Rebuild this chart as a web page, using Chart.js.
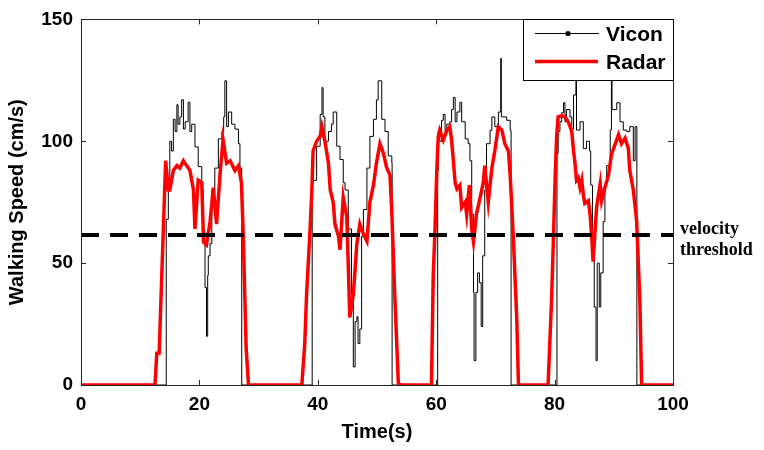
<!DOCTYPE html>
<html>
<head>
<meta charset="utf-8">
<script src="https://cdn.jsdelivr.net/npm/chart.js@4/dist/chart.umd.min.js"></script>
<style>
  html, body { margin: 0; padding: 0; background: #fff; }
  #wrap { width: 764px; height: 450px; }
</style>
</head>
<body>
<div id="wrap"><canvas id="c" width="764" height="450"></canvas></div>
<script>
// ---- Data ----
const xTicks = [0, 20, 40, 60, 80, 100];
const yTicks = [0, 50, 100, 150];

const viconT = [0,
  14.35, 14.4, 14.75, 15.0, 15.3, 15.6, 15.9, 16.2, 16.4, 16.7, 17.0, 17.3, 17.6, 18.1, 18.4, 18.7, 19.25, 19.8, 20.4, 20.65, 20.95, 21.2, 21.4, 21.5, 21.8, 22.1, 22.6, 23.2, 23.8, 24.1, 24.3, 24.6, 24.9, 25.45, 26.0, 26.6, 26.85, 27.15,
  39.0, 39.05, 39.2, 39.8, 40.4, 40.7, 40.9, 41.2, 41.8, 42.3, 42.6, 43.2, 43.75, 44.3, 44.6, 45.15, 45.7, 46.0, 46.3, 46.6, 46.8, 47.1, 47.4, 47.7, 48.3, 48.8, 49.4, 49.9, 50.2, 50.8, 51.35, 51.9, 52.5, 52.55,
  60.2, 60.25, 60.35, 60.6, 60.9, 61.2, 61.5, 61.8, 62.3, 62.6, 62.9, 63.2, 63.5, 64.0, 64.3, 64.9, 65.4, 65.7, 66.0, 66.3, 66.4, 66.7, 67.0, 67.3, 67.6, 67.85, 68.2, 68.5, 69.1, 69.4, 69.9, 70.5, 70.9, 71.0, 71.3, 71.9, 72.5, 72.65,
  80.35, 80.4, 80.6, 80.9, 81.2, 81.5, 81.75, 82.0, 82.6, 82.9, 83.2, 83.6, 83.7, 84.3, 84.85, 85.4, 85.9, 86.1, 86.4, 86.7, 87.0, 87.2, 87.55, 87.8, 88.2, 88.5, 88.8, 89.4, 89.6, 89.7, 90.5, 91.05, 91.6, 92.2, 92.7, 93.3, 93.6, 93.9,
  100];
const viconV = [0,
  0, 68, 84, 100, 96, 109, 104, 115, 107, 110, 117, 105, 108, 116, 104, 107, 97.7, 89.6, 80, 58, 40, 20, 45, 53, 58, 80, 89, 101, 104, 110, 124.8, 106, 112, 107, 105, 99, 89, 0,
  0, 83, 84, 98, 111, 122, 110, 100, 104, 107, 112, 98, 92.5, 83, 80, 64, 37, 7.4, 26, 28, 17, 23, 61, 72, 89, 102, 109, 117, 124.8, 109, 104, 94, 91, 0,
  0, 88, 104.5, 100, 108.6, 111, 104, 107, 108, 113, 118, 108, 112, 116, 108, 101, 99, 92, 70, 38, 10, 38, 46, 42, 24, 53, 80, 99, 104.5, 110, 106, 112, 134, 110, 110, 108.6, 104.5, 0,
  0, 95, 104, 108, 111.7, 115.8, 108, 113, 110, 105, 119, 128, 104.6, 108, 97, 100, 96, 82, 52, 32, 10, 50, 32, 46, 67, 82, 90, 104.6, 128, 113, 115.8, 108, 104.6, 104, 106, 92, 106, 0,
  0];

const radarT = [0,
  12.5, 12.8, 13.2, 14.3, 14.75, 15.0, 15.6, 16.2, 16.7, 17.3, 17.85, 18.4, 19.0, 19.25, 19.8, 20.4, 20.7, 21.2, 21.8, 22.35, 22.9, 23.5, 24.0, 24.6, 25.2, 26.0, 26.6, 27.1, 27.4, 27.9, 28.3,
  37.3, 37.8, 38.1, 38.7, 39.0, 39.2, 39.8, 40.4, 40.7, 41.2, 41.8, 42.1, 42.6, 42.9, 43.5, 43.75, 44.3, 44.9, 45.15, 45.4, 46.0, 46.6, 47.1, 47.7, 48.3, 48.8, 49.4, 49.9, 50.5, 51.1, 51.6, 52.2, 52.5, 53.0, 53.6, 53.9,
  59.2, 59.5, 59.8, 60.1, 60.35, 60.6, 61.2, 61.8, 62.3, 62.6, 62.9, 63.2, 63.5, 64.0, 64.3, 64.9, 65.15, 65.6, 66.0, 66.3, 66.8, 67.4, 67.95, 68.2, 68.8, 69.4, 69.9, 70.5, 71.1, 71.6, 72.2, 72.5, 73.0, 73.6, 73.9,
  78.9, 79.5, 79.8, 80.1, 80.35, 80.6, 81.2, 81.75, 82.3, 82.9, 83.2, 83.4, 83.7, 84.0, 84.3, 84.6, 84.85, 85.1, 85.7, 86.0, 86.3, 86.5, 86.8, 87.1, 87.7, 87.95, 88.5, 89.1, 89.6, 90.2, 90.8, 91.3, 91.9, 92.45, 92.7, 93.3, 93.85, 94.4, 94.7,
  100];
const radarV = [0,
  0, 13, 13, 92, 80, 80, 88, 90, 89, 92, 90, 88, 80, 64, 84, 83, 58.7, 57.5, 67, 81, 66, 87, 100.5, 91, 92, 88, 90, 83, 62, 15, 0,
  0, 17, 37, 64, 80, 96, 100, 102, 106, 100, 91, 80, 75, 66, 61, 55.5, 77, 69, 49, 27.7, 37, 58, 66, 62, 59, 75, 82, 91, 99, 95, 89.5, 86, 71, 37, 1, 0,
  0, 45, 64, 88, 102, 104.5, 100.5, 104.5, 106, 100.5, 92, 83, 80.5, 82, 72.8, 75, 70, 82, 64, 58.7, 70, 76.7, 83, 90, 75, 89, 96, 106, 104.5, 99, 96, 86, 62, 27.7, 0,
  0, 35.7, 60, 85.7, 102, 110, 110.5, 110, 108, 104, 96, 92, 84, 85, 81, 84, 78, 74.5, 75.6, 70, 59.6, 50.6, 62, 73, 82.6, 75.6, 81, 86, 94.6, 98.6, 102.7, 99, 101.3, 97.2, 88, 80, 67.6, 35, 0,
  0];

const thresholdT = [0, 100];
const thresholdV = [61.5, 61.5];
const thresholdLabel = ['velocity', 'threshold'];

const seriesNames = ['Vicon', 'Radar'];

// ---- Build chart ----
const toPts = (t, v) => t.map((x, i) => ({ x: x, y: v[i] }));
const SANS = '"Liberation Sans", Arial, Helvetica, sans-serif';
const SERIF = '"Liberation Serif", "Times New Roman", serif';

const framePlugin = {
  id: 'frame',
  afterDatasetsDraw(chart) {
    const { ctx, chartArea: a, scales } = chart;
    const xs = scales.x, ys = scales.y;
    ctx.save();
    // axes box
    ctx.strokeStyle = '#262626';
    ctx.lineWidth = 1;
    ctx.strokeRect(Math.round(a.left) + 0.5, Math.round(a.top) + 0.5, Math.round(a.right - a.left), Math.round(a.bottom - a.top));
    // inward ticks on all four sides
    const tl = 5;
    ctx.beginPath();
    xTicks.forEach(v => {
      const px = Math.round(xs.getPixelForValue(v)) + 0.5;
      ctx.moveTo(px, a.bottom); ctx.lineTo(px, a.bottom - tl);
      ctx.moveTo(px, a.top); ctx.lineTo(px, a.top + tl);
    });
    yTicks.forEach(v => {
      const py = Math.round(ys.getPixelForValue(v)) + 0.5;
      ctx.moveTo(a.left, py); ctx.lineTo(a.left + tl, py);
      ctx.moveTo(a.right, py); ctx.lineTo(a.right - tl, py);
    });
    ctx.stroke();

    // threshold annotation text
    const ty = ys.getPixelForValue(thresholdV[0]);
    ctx.fillStyle = '#000';
    ctx.font = 'bold 18px ' + SERIF;
    ctx.textAlign = 'left';
    ctx.textBaseline = 'middle';
    ctx.fillText(thresholdLabel[0], a.right + 7, ty - 6);
    ctx.fillText(thresholdLabel[1], a.right + 7, ty + 15);

    // legend (inside axes, top-right, opaque)
    const lx0 = 523, lx1 = Math.round(a.right), ly0 = Math.round(a.top), ly1 = 80;
    ctx.fillStyle = '#fff';
    ctx.fillRect(lx0, ly0, lx1 - lx0, ly1 - ly0);
    ctx.strokeStyle = '#000';
    ctx.lineWidth = 1;
    ctx.strokeRect(lx0 + 0.5, ly0 + 0.5, lx1 - lx0, ly1 - ly0);
    const ds = chart.data.datasets;
    // Vicon entry
    ctx.beginPath();
    ctx.strokeStyle = ds[0].borderColor;
    ctx.lineWidth = 1;
    ctx.moveTo(535, 33.5); ctx.lineTo(599, 33.5);
    ctx.stroke();
    ctx.beginPath();
    ctx.fillStyle = '#000';
    ctx.arc(568, 33.5, 2.6, 0, Math.PI * 2);
    ctx.fill();
    // Radar entry
    ctx.beginPath();
    ctx.strokeStyle = ds[1].borderColor;
    ctx.lineWidth = 3.5;
    ctx.moveTo(535, 61.5); ctx.lineTo(598, 61.5);
    ctx.stroke();
    ctx.fillStyle = '#000';
    ctx.font = 'bold 21px ' + SANS;
    ctx.textAlign = 'left';
    ctx.textBaseline = 'middle';
    ctx.fillText(ds[0].label, 606, 35);
    ctx.fillText(ds[1].label, 606, 63);
    ctx.restore();
  }
};

new Chart(document.getElementById('c'), {
  type: 'line',
  data: {
    datasets: [
      {
        label: seriesNames[0],
        data: toPts(viconT, viconV),
        borderColor: '#000000',
        borderWidth: 1,
        pointRadius: 0,
        stepped: true,
        order: 3
      },
      {
        label: seriesNames[1],
        data: toPts(radarT, radarV),
        borderColor: '#ff0000',
        borderWidth: 3.5,
        pointRadius: 0,
        tension: 0,
        order: 2
      },
      {
        label: 'threshold',
        data: toPts(thresholdT, thresholdV),
        borderColor: '#000000',
        borderWidth: 4,
        borderDash: [18, 11],
        pointRadius: 0,
        order: 1
      }
    ]
  },
  options: {
    responsive: false,
    animation: false,
    devicePixelRatio: 1,
    layout: { padding: { left: 0, top: 15, right: 91, bottom: 0 } },
    plugins: { legend: { display: false }, tooltip: { enabled: false } },
    scales: {
      x: {
        type: 'linear',
        min: 0, max: 100,
        afterBuildTicks: s => { s.ticks = xTicks.map(v => ({ value: v })); },
        afterFit: s => { s.height = 65; },
        grid: { display: false, drawTicks: false },
        border: { display: false },
        ticks: { color: '#000', padding: 8, maxRotation: 0, font: { family: SANS, size: 19, weight: 'bold' } },
        title: { display: true, text: 'Time(s)', color: '#000', padding: { top: 0, bottom: 6 }, font: { family: SANS, size: 20, weight: 'bold' } }
      },
      y: {
        type: 'linear',
        min: 0, max: 150,
        afterBuildTicks: s => { s.ticks = yTicks.map(v => ({ value: v })); },
        afterFit: s => { s.width = 81; },
        grid: { display: false, drawTicks: false },
        border: { display: false },
        ticks: { color: '#000', padding: 8, font: { family: SANS, size: 19, weight: 'bold' } },
        title: { display: true, text: 'Walking Speed (cm/s)', color: '#000', padding: { top: 5, bottom: 0 }, font: { family: SANS, size: 20, weight: 'bold' } }
      }
    }
  },
  plugins: [framePlugin]
});
</script>
</body>
</html>
